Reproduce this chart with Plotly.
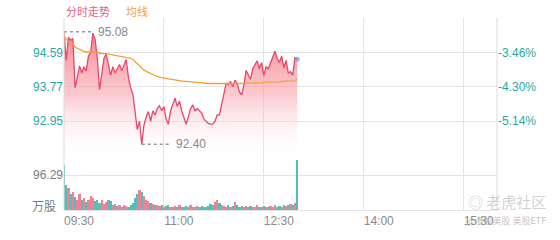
import plotly.graph_objects as go

# ---------------- data ----------------
minutes = list(range(0, 211, 2))  # minutes since 09:30, 2-minute steps

price = [95.08, 94.40, 94.95, 94.88, 94.92, 93.75, 94.00, 94.27, 94.10, 94.25,
         94.15, 94.50, 94.60, 95.05, 94.90, 94.45, 93.70, 94.10, 94.45, 94.55,
         94.30, 94.05, 94.25, 94.10, 94.20, 94.30, 94.15, 94.30, 94.42, 94.00,
         93.75, 93.60, 93.10, 92.75, 92.95, 92.40, 92.85, 93.05, 93.18, 92.95,
         93.20, 93.10, 93.25, 93.32, 93.20, 93.30, 93.00, 92.88, 93.20, 93.35,
         93.50, 93.30, 93.43, 93.20, 93.05, 92.88, 93.05, 93.25, 93.34, 93.20,
         93.25, 93.20, 93.15, 93.00, 92.95, 92.90, 92.88, 92.88, 92.95, 93.10,
         93.10, 93.35, 93.55, 93.85, 93.82, 93.90, 93.77, 93.93, 93.85, 93.65,
         93.58, 93.80, 94.16, 94.05, 93.95, 94.20, 94.30, 94.39, 94.20, 94.35,
         94.04, 94.25, 94.20, 94.35, 94.45, 94.62, 94.45, 94.35, 94.50, 94.22,
         94.40, 94.10, 94.13, 94.05, 94.46, 94.43]

avg = [95.00, 94.90, 94.85, 94.82, 94.80, 94.72, 94.68, 94.66, 94.64, 94.62,
       94.60, 94.60, 94.60, 94.61, 94.61, 94.60, 94.57, 94.56, 94.56, 94.56,
       94.55, 94.54, 94.53, 94.52, 94.51, 94.50, 94.49, 94.48, 94.48, 94.47,
       94.45, 94.42, 94.37, 94.31, 94.26, 94.21, 94.17, 94.14, 94.11, 94.08,
       94.06, 94.04, 94.02, 94.00, 93.99, 93.98, 93.97, 93.96, 93.95, 93.94,
       93.93, 93.92, 93.92, 93.91, 93.90, 93.90, 93.89, 93.89, 93.88, 93.88,
       93.87, 93.87, 93.87, 93.86, 93.86, 93.85, 93.85, 93.85, 93.84, 93.84,
       93.84, 93.84, 93.84, 93.84, 93.85, 93.85, 93.85, 93.85, 93.85, 93.85,
       93.85, 93.85, 93.86, 93.86, 93.86, 93.86, 93.87, 93.87, 93.87, 93.87,
       93.88, 93.88, 93.88, 93.88, 93.89, 93.89, 93.89, 93.89, 93.90, 93.90,
       93.90, 93.90, 93.90, 93.90, 93.91, 93.95]

volume = [126, 70, 62, 45, 50, 38, 30, 45, 28, 35,
          22, 30, 40, 35, 25, 30, 20, 28, 18, 22,
          30, 25, 14, 18, 12, 16, 10, 14, 12, 10,
          15, 20, 35, 45, 56, 50, 40, 30, 25, 20,
          18, 14, 16, 12, 14, 10, 12, 16, 10, 8,
          12, 10, 14, 8, 10, 12, 9, 14, 10, 8,
          12, 9, 11, 8, 10, 12, 18, 14, 22, 28,
          20, 15, 12, 10, 14, 9, 12, 24, 14, 10,
          12, 9, 11, 8, 12, 9, 10, 14, 10, 8,
          12, 10, 9, 12, 10, 14, 9, 12, 10, 14,
          12, 16, 18, 14, 20, 139]

time_ticks = [0, 90, 180, 270, 360]
time_labels = ["09:30", "11:00", "12:30", "14:00", "15:30"]
session_minutes = 390

price_ticks = [92.95, 93.77, 94.59]
price_labels = ["92.95", "93.77", "94.59"]
pct_labels = ["-5.14%", "-4.30%", "-3.46%"]
price_range = [92.06, 95.41]

vol_tick = 96.29
vol_label = "96.29"
vol_unit = "万股"
vol_range = [0, 141.8]

title_main = "分时走势"
title_avg = "均线"
watermark = "老虎社区"
watermark_sub = "@港股美股 美股ETF"

# ---------------- style ----------------
FONT = "Liberation Sans, Arial, Noto Sans CJK SC, sans-serif"
TEAL = "#1fa9a2"
GRAY = "#7a7a7a"
GRID = "#e4e4e4"
LINE = "#e8466b"
ORANGE = "#f0a035"
split = 53 / 198

fig = go.Figure()

# price area with vertical gradient
fig.add_trace(go.Scatter(
    x=minutes, y=price, xaxis="x2", yaxis="y", mode="lines",
    line=dict(color=LINE, width=1.3), fill="tozeroy",
    fillgradient=dict(type="vertical", start=92.15, stop=95.1,
                      colorscale=[[0, "rgba(255,255,255,0)"],
                                  [0.5, "rgba(248,160,170,0.55)"],
                                  [1, "rgba(244,110,125,0.85)"]]),
    hoverinfo="skip", showlegend=False))

# average line
fig.add_trace(go.Scatter(
    x=minutes, y=avg, xaxis="x2", yaxis="y", mode="lines",
    line=dict(color=ORANGE, width=1.3), hoverinfo="skip", showlegend=False))

# last point marker
fig.add_trace(go.Scatter(
    x=[minutes[-1]], y=[price[-1]], xaxis="x2", yaxis="y", mode="markers",
    marker=dict(color="rgba(130,150,235,0.75)", size=5),
    hoverinfo="skip", showlegend=False))

# max / min markers
imax = price.index(max(price))
imin = price.index(min(price))
for i in (imax, imin):
    fig.add_trace(go.Scatter(
        x=[minutes[i], minutes[i] + 26], y=[price[i], price[i]],
        xaxis="x2", yaxis="y", mode="lines",
        line=dict(color="#999999", width=1.5, dash="3px,3px"),
        hoverinfo="skip", showlegend=False))
    fig.add_annotation(x=minutes[i] + 29, y=price[i], xref="x2", yref="y",
                       text=f"{price[i]:.2f}", showarrow=False, xanchor="left",
                       font=dict(family=FONT, size=12, color="#888888"))

# volume bars
colors = []
for k in range(len(price)):
    prev = price[k - 1] if k > 0 else price[0] + 1
    colors.append("rgba(240,105,128,0.85)" if price[k] > prev else "rgba(55,180,170,0.85)")
fig.add_trace(go.Bar(
    x=minutes, y=volume, xaxis="x", yaxis="y2", marker=dict(color=colors, line=dict(width=0)),
    width=2, hoverinfo="skip", showlegend=False))

# right-side pct axis dummy trace
fig.add_trace(go.Scatter(x=[minutes[0]], y=[price[0]], xaxis="x2", yaxis="y3",
                         mode="markers", marker=dict(opacity=0), hoverinfo="skip",
                         showlegend=False))

fig.update_layout(
    width=560, height=240,
    margin=dict(l=64, r=63, t=18, b=24),
    paper_bgcolor="white", plot_bgcolor="white",
    bargap=0,
    font=dict(family=FONT, size=12, color=GRAY),
    xaxis=dict(domain=[0, 1], anchor="y2", range=[0, session_minutes],
               tickvals=time_ticks, ticktext=time_labels, ticklabelshift=15,
               showgrid=True, gridcolor=GRID, gridwidth=1, zeroline=False,
               showline=True, linecolor=GRID, ticks="",
               tickfont=dict(family=FONT, size=12, color="#8a8a8a")),
    xaxis2=dict(domain=[0, 1], anchor="y", matches="x", range=[0, session_minutes],
                tickvals=time_ticks, showticklabels=False, showgrid=True,
                gridcolor=GRID, zeroline=False, ticks=""),
    yaxis=dict(domain=[split, 1], anchor="x2", range=price_range,
               tickvals=price_ticks, ticktext=price_labels, showgrid=True,
               gridcolor=GRID, zeroline=False, ticks="",
               tickfont=dict(family=FONT, size=12, color=TEAL)),
    yaxis3=dict(overlaying="y", anchor="x2", side="right", range=price_range,
                tickvals=price_ticks, ticktext=pct_labels, showgrid=False,
                zeroline=False, ticks="",
                tickfont=dict(family=FONT, size=12, color=TEAL)),
    yaxis2=dict(domain=[0, split], anchor="x", range=vol_range,
                tickvals=[vol_tick], ticktext=[vol_label], showgrid=True,
                gridcolor=GRID, zeroline=False, ticks="",
                tickfont=dict(family=FONT, size=12, color=GRAY)),
)

# frame lines left/right
for xv in (0, 1):
    fig.add_shape(type="line", xref="paper", yref="paper", x0=xv, x1=xv, y0=0, y1=1,
                  line=dict(color="#dcdcdc", width=1))

# titles
fig.add_annotation(x=0, y=240 - 11, xref="paper", yref="paper", text=title_main,
                   showarrow=False, xanchor="left", yanchor="middle",
                   font=dict(family="Noto Sans CJK SC", size=11, color="#e8607a"))
fig.add_annotation(x=(124 - 64) / 433, y=240 - 11, xref="paper", yref="paper", text=title_avg,
                   showarrow=False, xanchor="left", yanchor="middle",
                   font=dict(family="Noto Sans CJK SC", size=11, color=ORANGE))
# fix title positions using pixel-based paper coords
fig.layout.annotations[-2].y = (240 - 24 - 11) / 198 + 0.0
fig.layout.annotations[-1].y = (240 - 24 - 11) / 198 + 0.0

# volume unit
fig.add_annotation(x=-6 / 433, y=(216 - 211) / 198, xref="paper", yref="paper", text=vol_unit,
                   showarrow=False, xanchor="right", yanchor="middle",
                   font=dict(family="Noto Sans CJK SC", size=12, color=GRAY))

# watermark
fig.add_annotation(x=(548 - 64) / 433, y=(216 - 207) / 198, xref="paper", yref="paper",
                   text="◎ " + watermark, showarrow=False, xanchor="right", yanchor="middle",
                   font=dict(family="Noto Sans CJK SC", size=15, color="rgba(190,190,190,0.7)"))
fig.add_annotation(x=(548 - 64) / 433, y=(216 - 227) / 198, xref="paper", yref="paper",
                   text=watermark_sub, showarrow=False, xanchor="right", yanchor="middle",
                   font=dict(family="Noto Sans CJK SC", size=9, color="rgba(170,170,170,0.7)"))

fig.write_html("out.html")
